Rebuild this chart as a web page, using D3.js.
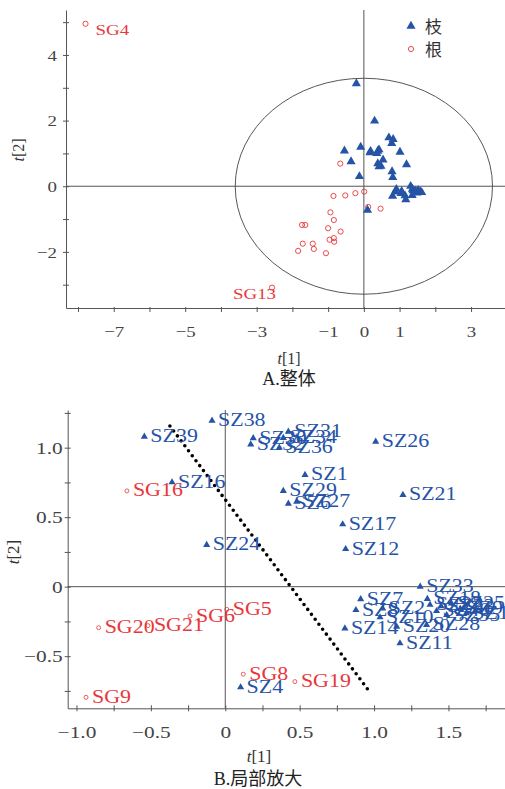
<!DOCTYPE html>
<html>
<head>
<meta charset="utf-8">
<script src="https://cdn.jsdelivr.net/npm/d3@7"></script>
<style>
body { margin: 0; background: #fff; }
text { font-family: "Liberation Serif", "Times New Roman", serif; }
</style>
</head>
<body>
<div id="chart"></div>
<script>

// PCA scores, t[1] / t[2]
const shootNames = ["SZ1","SZ2","SZ3","SZ4","SZ5","SZ6","SZ7","SZ8","SZ9","SZ10",
                    "SZ11","SZ12","SZ13","SZ14","SZ15","SZ16","SZ17","SZ18","SZ19","SZ20",
                    "SZ21","SZ22","SZ23","SZ24","SZ25","SZ26","SZ27","SZ28","SZ29","SZ30",
                    "SZ31","SZ32","SZ33","SZ34","SZ35","SZ36","SZ37","SZ38","SZ39","SZ40"];
const shootT1 = [0.536, 1.058, -0.21, 0.103, 0.30, 0.424, 0.91, 0.878, 1.58, 1.04,
                 1.174, 0.809, 0.70, 0.804, 0.82, -0.358, 0.789, 1.358, 1.62, 1.152,
                 1.194, 1.376, 1.45, -0.125, 1.52, 1.011, 0.48, 1.353, 0.39, 0.188,
                 0.424, 0.171, 1.31, 0.39, 1.488, 0.363, 0.78, -0.089, -0.544, 1.42];
const shootT2 = [0.804, -0.156, 3.13, -0.724, 1.99, 0.597, -0.09, -0.168, -0.16, -0.22,
                 -0.407, 0.271, 1.48, -0.30, 1.43, 0.751, 0.449, -0.088, -0.19, -0.288,
                 0.66, -0.13, -0.14, 0.30, -0.12, 1.043, 0.612, -0.275, 0.689, 1.068,
                 1.115, 1.024, 0.0, 1.07, -0.204, 1.00, 1.31, 1.194, 1.079, -0.175];

const rootNames = ["SG1","SG2","SG3","SG4","SG5","SG6","SG7","SG8","SG9","SG10",
                   "SG11","SG12","SG13","SG14","SG15","SG16","SG17","SG18","SG19","SG20",
                   "SG21","SG22","SG23"];
const rootT1 = [-0.84, -1.73, -1.64, -7.79, 0.01, -0.237, -1.00, 0.121, -0.936, -0.65,
                -0.96, -0.84, -2.57, -0.83, -1.71, -0.661, -1.43, -1.40, 0.468, -0.851,
                -0.52, -1.84, -1.06];
const rootT2 = [-1.03, -1.18, -1.18, 4.95, -0.163, -0.211, -1.28, -0.63, -0.796, -1.38,
                -1.63, -1.58, -3.09, -1.69, -1.75, 0.689, -1.75, -1.91, -0.683, -0.295,
                -0.28, -1.97, -2.04];

const legendLabels = ["枝", "根"];
const labelledInA = ["SG4", "SG13"];

// ellipse semi axes (t units) and the dotted split line in panel B
const ellipseRadii = [3.6, 3.29];
const splitLine = [[-0.372, 1.156], [0.961, -0.743]];

const ticksAX = [-8, -7, -6, -5, -4, -3, -2, -1, 0, 1, 2, 3];
const labelsAX = ["", "−7", "", "−5", "", "−3", "", "−1", "0", "1", "", "3"];
const ticksAY = [-3, -2, -1, 0, 1, 2, 3, 4, 5];
const labelsAY = ["", "−2", "", "0", "", "2", "", "4", ""];
const ticksBX = [-1, -0.75, -0.5, -0.25, 0, 0.25, 0.5, 0.75, 1, 1.25, 1.5, 1.75];
const labelsBX = ["−1.0", "", "−0.5", "", "0", "", "0.5", "", "1.0", "", "1.5", ""];
const ticksBY = [-0.75, -0.5, -0.25, 0, 0.25, 0.5, 0.75, 1, 1.25];
const labelsBY = ["", "−0.5", "", "0", "", "0.5", "", "1.0", ""];

const captions = ["A.整体", "B.局部放大"];

const blue = "#2553a6", red = "#e8373a", axisColor = "#555";
const wide = 1.22;   // the original serif face is wider than Liberation Serif

const samples = [];
shootNames.forEach((n, i) => samples.push({name: n, t1: shootT1[i], t2: shootT2[i], group: 0}));
rootNames.forEach((n, i) => samples.push({name: n, t1: rootT1[i], t2: rootT2[i], group: 1}));

const svg = d3.select("#chart").append("svg")
  .attr("width", 505)
  .attr("height", 789);

function DrawAxes(g, x, y, xt, xl, yt, yl, opt) {
  const xa = g.append("g")
    .attr("transform", "translate(0," + y.range()[0] + ")")
    .call(d3.axisBottom(x).tickValues(xt).tickSizeOuter(0)
      .tickFormat((d, i) => xl[i]));
  xa.selectAll(".tick line").attr("y1", opt.xTickUp).attr("y2", opt.xTickDown);
  xa.selectAll(".tick text").attr("y", opt.xLabelY).attr("dy", 0);

  const ya = g.append("g")
    .attr("transform", "translate(" + x.range()[0] + ",0)")
    .call(d3.axisLeft(y).tickValues(yt).tickSizeOuter(0)
      .tickFormat((d, i) => yl[i]));
  ya.selectAll(".tick line").attr("x1", 3).attr("x2", -3);
  ya.selectAll(".tick text").attr("x", opt.yLabelX / wide).attr("dy", "0.33em");

  g.selectAll(".domain, .tick line").attr("stroke", axisColor);
  g.selectAll(".tick text")
    .attr("fill", "#444")
    .attr("transform", "scale(" + wide + ",1)")
    .style("font-family", "Liberation Serif")
    .style("font-size", opt.tickFont + "px");

  // zero lines
  g.append("line")
    .attr("x1", x(0)).attr("x2", x(0))
    .attr("y1", y.range()[0]).attr("y2", y.range()[1])
    .attr("stroke", axisColor);
  g.append("line")
    .attr("x1", x.range()[0]).attr("x2", x.range()[1])
    .attr("y1", y(0)).attr("y2", y(0))
    .attr("stroke", axisColor);
}

function AxisTitles(g, tx, ty, yx, yy, size) {
  const xt = g.append("text").attr("x", tx).attr("y", ty)
    .attr("text-anchor", "middle").style("font-size", size + "px").attr("fill", "#333");
  xt.append("tspan").style("font-style", "italic").text("t");
  xt.append("tspan").text("[1]");
  const yt = g.append("text")
    .attr("transform", "translate(" + yx + "," + yy + ") rotate(-90)")
    .attr("text-anchor", "middle").style("font-size", size + "px").attr("fill", "#333");
  yt.append("tspan").style("font-style", "italic").text("t");
  yt.append("tspan").text("[2]");
}

// ---------- Panel A: whole ----------
const gA = svg.append("g");
const xA = d3.scaleLinear().domain([-8.336, 3.95]).range([66, 505]);
const yA = d3.scaleLinear().domain([-3.71, 5.37]).range([308, 10]);

DrawAxes(gA, xA, yA, ticksAX, labelsAX, ticksAY, labelsAY,
  {xTickUp: -1, xTickDown: 4, xLabelY: 29, yLabelX: -9, tickFont: 15.5});

gA.append("ellipse")
  .attr("cx", xA(0)).attr("cy", yA(0))
  .attr("rx", xA(ellipseRadii[0]) - xA(0))
  .attr("ry", yA(0) - yA(ellipseRadii[1]))
  .attr("fill", "none").attr("stroke", "#444").attr("stroke-width", 0.9);

const triA = d3.symbol().type(d3.symbolTriangle).size(36);
const triB = d3.symbol().type(d3.symbolTriangle).size(22);

gA.selectAll(".rootA")
  .data(samples.filter(d => d.group === 1))
  .enter().append("circle")
    .attr("cx", d => xA(d.t1))
    .attr("cy", d => yA(d.t2))
    .attr("r", 2.6)
    .attr("fill", "none").attr("stroke", red).attr("stroke-width", 0.9);

gA.selectAll(".shootA")
  .data(samples.filter(d => d.group === 0))
  .enter().append("path")
    .attr("d", triA)
    .attr("transform", d => "translate(" + xA(d.t1) + "," + yA(d.t2) + ")")
    .attr("fill", blue);

gA.selectAll(".labelA")
  .data(samples.filter(d => labelledInA.includes(d.name)))
  .enter().append("text")
    .attr("transform", d => "translate(" + (d.t1 < -5 ? xA(d.t1) + 10 : xA(d.t1) + 4) + ","
                             + (yA(d.t2) + 11) + ") scale(" + wide + ",1)")
    .attr("text-anchor", d => d.t1 < -5 ? "start" : "end")
    .attr("fill", red)
    .style("font-size", "15.5px")
    .text(d => d.name);

// legend
const leg = gA.append("g");
leg.append("path").attr("d", triA).attr("transform", "translate(411,26)").attr("fill", blue);
leg.append("circle").attr("cx", 411).attr("cy", 49).attr("r", 2.6)
  .attr("fill", "none").attr("stroke", red).attr("stroke-width", 0.9);
leg.selectAll(".legtext").data(legendLabels).enter().append("text")
  .attr("x", 425).attr("y", (d, i) => 33 + i * 23)
  .style("font-family", "Noto Sans CJK SC").style("font-size", "17px")
  .attr("fill", "#333").text(d => d);

AxisTitles(gA, 289, 364, 24, 150, 16);
gA.append("text").attr("x", 289).attr("y", 385).attr("text-anchor", "middle")
  .style("font-family", "Liberation Serif, Noto Sans CJK SC").style("font-size", "18px")
  .attr("fill", "#222").text(captions[0]);

// ---------- Panel B: zoomed ----------
const gB = svg.append("g");
const xB = d3.scaleLinear().domain([-1.059, 1.88]).range([67.7, 505]);
const yB = d3.scaleLinear().domain([-0.875, 1.271]).range([708.3, 410]);

DrawAxes(gB, xB, yB, ticksBX, labelsBX, ticksBY, labelsBY,
  {xTickUp: -3, xTickDown: 3, xLabelY: 30, yLabelX: -5, tickFont: 17.5});

const inB = samples.filter(d => d.t1 >= xB.domain()[0] && d.t1 <= xB.domain()[1]
                             && d.t2 >= yB.domain()[0] && d.t2 <= yB.domain()[1]);

gB.append("line")
  .attr("x1", xB(splitLine[0][0])).attr("y1", yB(splitLine[0][1]))
  .attr("x2", xB(splitLine[1][0])).attr("y2", yB(splitLine[1][1]))
  .attr("stroke", "#000").attr("stroke-width", 3.6)
  .attr("stroke-linecap", "round").attr("stroke-dasharray", "0,6.2");

gB.selectAll(".rootB")
  .data(inB.filter(d => d.group === 1))
  .enter().append("circle")
    .attr("cx", d => xB(d.t1))
    .attr("cy", d => yB(d.t2))
    .attr("r", 2)
    .attr("fill", "none").attr("stroke", red).attr("stroke-width", 0.8);

gB.selectAll(".shootB")
  .data(inB.filter(d => d.group === 0))
  .enter().append("path")
    .attr("d", triB)
    .attr("transform", d => "translate(" + xB(d.t1) + "," + yB(d.t2) + ")")
    .attr("fill", blue);

gB.selectAll(".labelB")
  .data(inB)
  .enter().append("text")
    .attr("transform", d => "translate(" + (xB(d.t1) + 6) + "," + (yB(d.t2) + 5.5)
                             + ") scale(" + wide + ",1)")
    .attr("fill", d => d.group === 0 ? blue : red)
    .style("font-size", "18px")
    .text(d => d.name);

AxisTitles(gB, 259, 762, 19, 552, 17);
gB.append("text").attr("x", 258).attr("y", 785).attr("text-anchor", "middle")
  .style("font-family", "Liberation Serif, Noto Sans CJK SC").style("font-size", "18px")
  .attr("fill", "#222").text(captions[1]);

</script>
</body>
</html>
